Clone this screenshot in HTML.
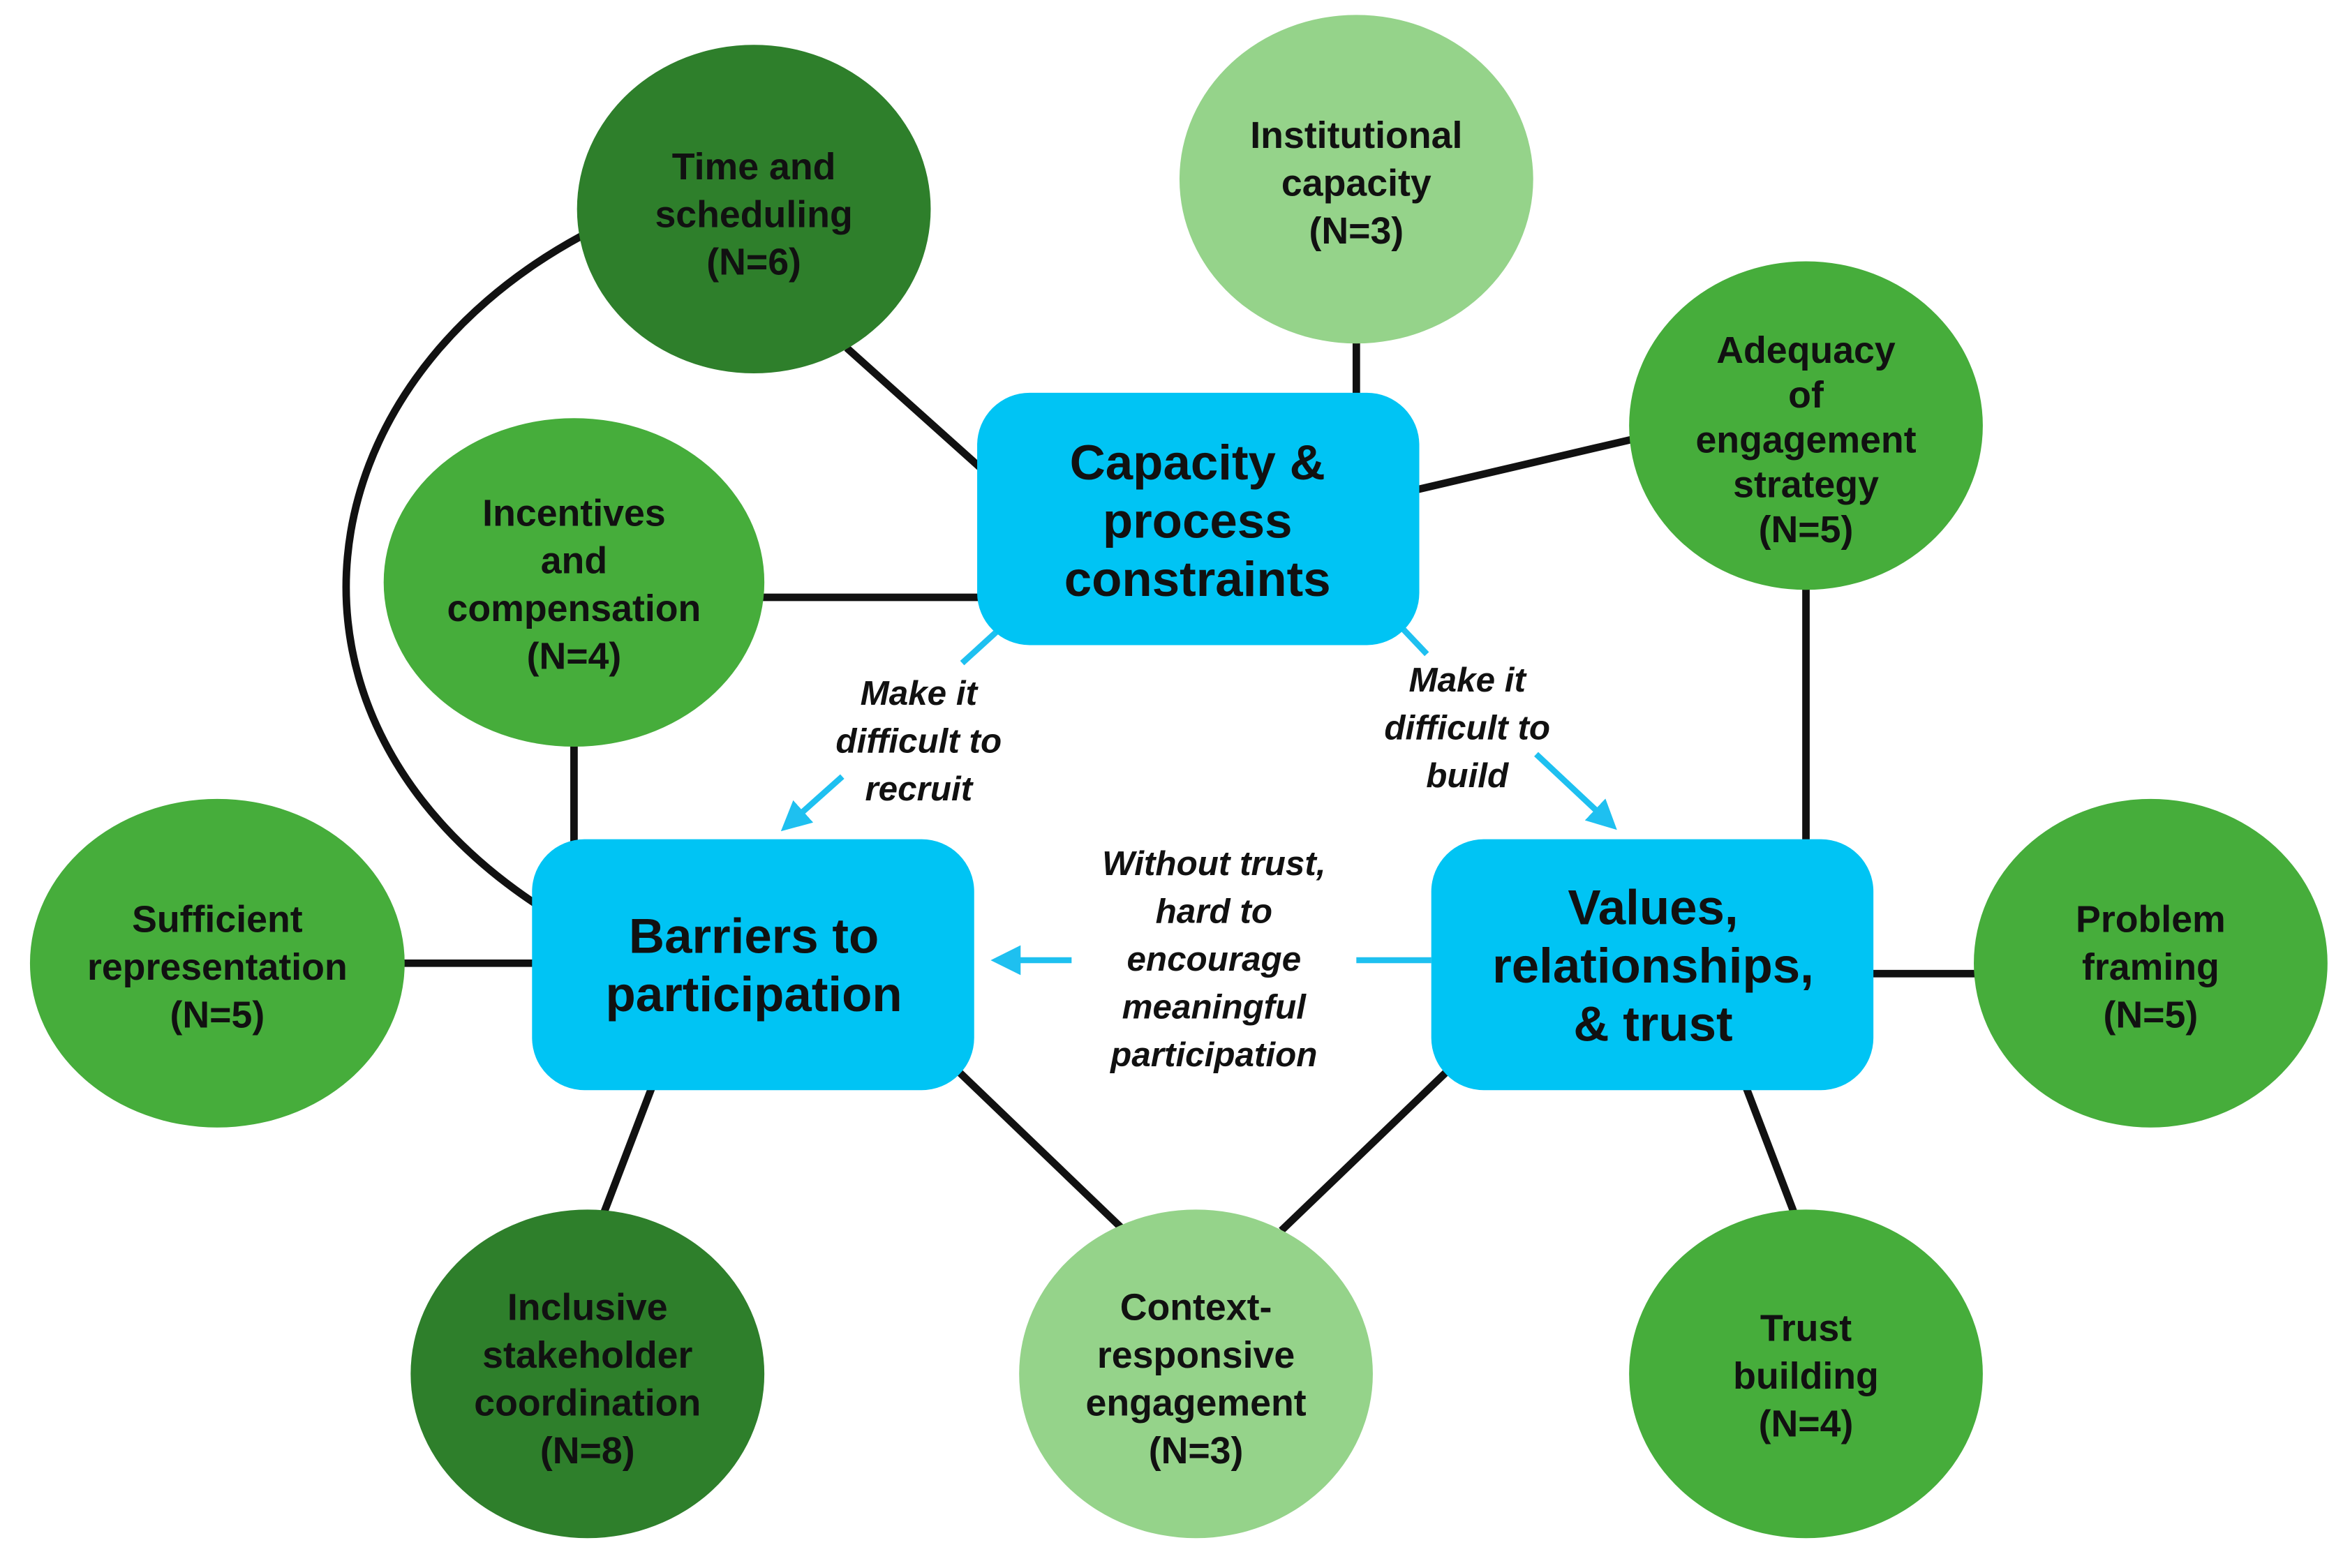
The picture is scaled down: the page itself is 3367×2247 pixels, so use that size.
<!DOCTYPE html>
<html><head><meta charset="utf-8"><style>
html,body{margin:0;padding:0;background:#fff;}
svg{display:block;}
text{font-family:"Liberation Sans",sans-serif;font-weight:bold;fill:#111;text-anchor:middle;}
.c{font-size:25px;}
.b{font-size:33px;}
.i{font-size:23px;font-style:italic;}
</style></head><body>
<svg width="3367" height="2247" viewBox="0 0 1568 1050" preserveAspectRatio="none" xmlns="http://www.w3.org/2000/svg">
<defs>
<marker id="ah" viewBox="0 0 10 10" refX="8" refY="5" markerWidth="5" markerHeight="5" orient="auto"><path d="M0,0 L10,5 L0,10 z" fill="#1ec0f0"/></marker>
</defs>
<g stroke="#111" stroke-width="5" fill="none">
<line x1="565" y1="233" x2="655" y2="314"/>
<line x1="905" y1="225" x2="905" y2="266"/>
<line x1="945" y1="328" x2="1090" y2="294"/>
<line x1="505" y1="400" x2="655" y2="400"/>
<line x1="1205" y1="390" x2="1205" y2="565"/>
<line x1="383" y1="495" x2="383" y2="565"/>
<path d="M388,158 C200,260 170,480 357,605"/>
<line x1="268" y1="645" x2="358" y2="645"/>
<line x1="1248" y1="652" x2="1320" y2="652"/>
<line x1="435" y1="728" x2="403" y2="812"/>
<line x1="638" y1="716" x2="748" y2="822"/>
<line x1="967" y1="716" x2="855" y2="824"/>
<line x1="1165" y1="728" x2="1197" y2="812"/>
</g>
<g stroke="#1ec0f0" stroke-width="4" fill="none">
<line x1="665" y1="423" x2="642" y2="444"/>
<line x1="562" y1="520" x2="524" y2="554" marker-end="url(#ah)"/>
<line x1="935" y1="420" x2="952" y2="438"/>
<line x1="1025" y1="505" x2="1076" y2="553" marker-end="url(#ah)"/>
<line x1="955" y1="643" x2="905" y2="643"/>
<line x1="715" y1="643" x2="665" y2="643" marker-end="url(#ah)"/>
</g>
<g stroke="none">
<ellipse cx="503" cy="140" rx="118" ry="110" fill="#2e7f2b"/>
<ellipse cx="905" cy="120" rx="118" ry="110" fill="#95d38a"/>
<ellipse cx="1205" cy="285" rx="118" ry="110" fill="#46ad3b"/>
<ellipse cx="383" cy="390" rx="127" ry="110" fill="#46ad3b"/>
<ellipse cx="145" cy="645" rx="125" ry="110" fill="#46ad3b"/>
<ellipse cx="1435" cy="645" rx="118" ry="110" fill="#46ad3b"/>
<ellipse cx="392" cy="920" rx="118" ry="110" fill="#2e7f2b"/>
<ellipse cx="798" cy="920" rx="118" ry="110" fill="#95d38a"/>
<ellipse cx="1205" cy="920" rx="118" ry="110" fill="#46ad3b"/>
<rect x="652" y="263" width="295" height="169" rx="35" fill="#00c4f4"/>
<rect x="355" y="562" width="295" height="168" rx="35" fill="#00c4f4"/>
<rect x="955" y="562" width="295" height="168" rx="35" fill="#00c4f4"/>
</g>
<text class="c"><tspan x="503" y="120">Time and</tspan><tspan x="503" y="152">scheduling</tspan><tspan x="503" y="184">(N=6)</tspan></text>
<text class="c"><tspan x="905" y="99">Institutional</tspan><tspan x="905" y="131">capacity</tspan><tspan x="905" y="163">(N=3)</tspan></text>
<text class="c"><tspan x="1205" y="243">Adequacy</tspan><tspan x="1205" y="273">of</tspan><tspan x="1205" y="303">engagement</tspan><tspan x="1205" y="333">strategy</tspan><tspan x="1205" y="363">(N=5)</tspan></text>
<text class="c"><tspan x="383" y="352">Incentives</tspan><tspan x="383" y="384">and</tspan><tspan x="383" y="416">compensation</tspan><tspan x="383" y="448">(N=4)</tspan></text>
<text class="c"><tspan x="145" y="624">Sufficient</tspan><tspan x="145" y="656">representation</tspan><tspan x="145" y="688">(N=5)</tspan></text>
<text class="c"><tspan x="1435" y="624">Problem</tspan><tspan x="1435" y="656">framing</tspan><tspan x="1435" y="688">(N=5)</tspan></text>
<text class="c"><tspan x="392" y="884">Inclusive</tspan><tspan x="392" y="916">stakeholder</tspan><tspan x="392" y="948">coordination</tspan><tspan x="392" y="980">(N=8)</tspan></text>
<text class="c"><tspan x="798" y="884">Context-</tspan><tspan x="798" y="916">responsive</tspan><tspan x="798" y="948">engagement</tspan><tspan x="798" y="980">(N=3)</tspan></text>
<text class="c"><tspan x="1205" y="898">Trust</tspan><tspan x="1205" y="930">building</tspan><tspan x="1205" y="962">(N=4)</tspan></text>
<text class="b"><tspan x="799" y="321">Capacity &amp;</tspan><tspan x="799" y="360">process</tspan><tspan x="799" y="399">constraints</tspan></text>
<text class="b"><tspan x="503" y="638">Barriers to</tspan><tspan x="503" y="677">participation</tspan></text>
<text class="b"><tspan x="1103" y="619">Values,</tspan><tspan x="1103" y="658">relationships,</tspan><tspan x="1103" y="697">&amp; trust</tspan></text>
<text class="i"><tspan x="613" y="472">Make it</tspan><tspan x="613" y="504">difficult to</tspan><tspan x="613" y="536">recruit</tspan></text>
<text class="i"><tspan x="979" y="463">Make it</tspan><tspan x="979" y="495">difficult to</tspan><tspan x="979" y="527">build</tspan></text>
<text class="i"><tspan x="810" y="586">Without trust,</tspan><tspan x="810" y="618">hard to</tspan><tspan x="810" y="650">encourage</tspan><tspan x="810" y="682">meaningful</tspan><tspan x="810" y="714">participation</tspan></text>
</svg>
</body></html>
